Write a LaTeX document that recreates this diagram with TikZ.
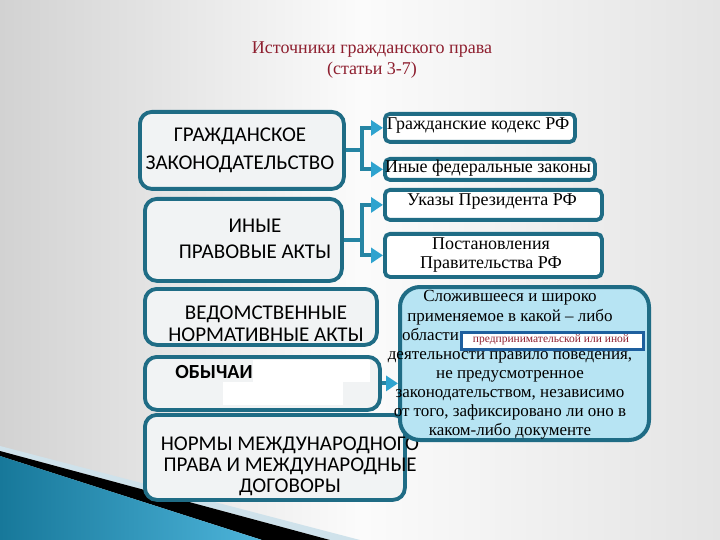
\documentclass[tikz,border=0pt]{standalone}
\usepackage{fontspec}
\setmainfont{Liberation Serif}
\newfontfamily\calfont{Carlito}
\usetikzlibrary{arrows.meta}
\definecolor{teal1}{HTML}{1F6C85}
\definecolor{connc}{HTML}{2584A3}
\definecolor{tipc}{HTML}{2EA3CF}
\definecolor{lfill}{HTML}{F1F3F4}
\definecolor{bigfill}{HTML}{B7E4F3}
\definecolor{innerc}{HTML}{1E5F9E}
\definecolor{titlec}{HTML}{8E1F2F}
\definecolor{bgl}{HTML}{D2D2D2}
\definecolor{bgr}{HTML}{E4E4E4}
\definecolor{blueD}{HTML}{17789A}
\definecolor{blueL}{HTML}{4DB4DA}
\definecolor{lightstrip}{HTML}{CFE2EB}
\tikzset{
  lbox/.style={draw=teal1, line width=3.8pt, rounded corners=12pt, fill=lfill, anchor=north west, inner sep=0pt},
  rbox/.style={draw=teal1, line width=3.8pt, rounded corners=5pt, fill=white, anchor=north west, inner sep=0pt},
  ltext/.style={font=\calfont\fontsize{21}{26}\selectfont, align=center, inner sep=0pt},
  rtext/.style={font=\fontsize{18}{19.5}\selectfont, align=center, inner sep=0pt},
  conn/.style={draw=connc, line width=4pt, -{Triangle[length=12pt,width=15pt,color=tipc]}},
}
\begin{document}
\begin{tikzpicture}[x=1pt,y=-1pt]
\useasboundingbox (0,0) rectangle (720,540);
% background
\shade[left color=bgl, right color=bgr, middle color=white!97!gray] (0,0) rectangle (720,540);
\fill[lightstrip] (0,446) -- (360,540) -- (330,540) -- (0,451) -- cycle;
\fill[black] (0,451) -- (330,540) -- (262,540) -- (0,456) -- cycle;
\shade[left color=blueD, right color=blueL] (0,456) -- (262,540) -- (0,540) -- cycle;

% title
\node[font=\fontsize{18}{21}\selectfont, text=titlec, align=center, inner sep=0pt] (title) at (372,60) {Источники гражданского права\\(статьи 3-7)};

% left boxes
\node[lbox, minimum width=204pt, minimum height=77pt] (g1) at (138,110) {};
\node[lbox, minimum width=197pt, minimum height=82pt] (g2) at (143,197) {};
\node[lbox, minimum width=232pt, minimum height=56pt] (g3) at (143,287) {};
\node[lbox, minimum width=235pt, minimum height=53pt] (g4) at (143,355) {};
\node[lbox, minimum width=260pt, minimum height=85pt] (g5) at (143,413) {};
\fill[white] (253,360) rectangle (370,382);
\fill[white] (223,382) rectangle (343,405);

\node[ltext, font=\calfont\fontsize{21}{28}\selectfont] (t1) at (240,150) {ГРАЖДАНСКОЕ\\ЗАКОНОДАТЕЛЬСТВО};
\node[ltext, font=\calfont\fontsize{21}{26}\selectfont] (t2) at (255,239) {ИНЫЕ\\ПРАВОВЫЕ АКТЫ};
\node[ltext, font=\calfont\fontsize{21}{22}\selectfont] (t3) at (266,324) {ВЕДОМСТВЕННЫЕ\\НОРМАТИВНЫЕ АКТЫ};
\node[ltext, font=\calfont\bfseries\fontsize{20}{22}\selectfont] (t4) at (214,372) {ОБЫЧАИ};
\node[ltext, font=\calfont\fontsize{21}{21}\selectfont] (t5) at (290,466) {НОРМЫ МЕЖДУНАРОДНОГО\\ПРАВА И МЕЖДУНАРОДНЫЕ\\ДОГОВОРЫ};

% right boxes
\node[rbox, minimum width=190pt, minimum height=28pt] (r1) at (383,112) {};
\node[rbox, minimum width=210pt, minimum height=21pt] (r2) at (383,157) {};
\node[rbox, minimum width=217pt, minimum height=30pt] (r3) at (383,188) {};
\node[rbox, minimum width=217pt, minimum height=43pt] (r4) at (383,232) {};
\node[rtext] (s1) at (478,126) {Гражданские кодекс РФ};
\node[rtext] (s2) at (488,168) {Иные федеральные законы};
\node[rtext] (s3) at (492,202) {Указы Президента РФ};
\node[rtext] (s4) at (491,255) {Постановления\\Правительства РФ};

% big box
\node[draw=teal1, line width=4pt, rounded corners=20pt, fill=bigfill, anchor=north west, inner sep=0pt, minimum width=249pt, minimum height=153pt] (big) at (398,285) {};
\node[font=\fontsize{17}{19.1}\selectfont, align=center, inner sep=0pt] (bigtext) at (510,365) {Сложившееся и широко\\применяемое в какой – либо\\\makebox[216pt][l]{области}\\деятельности правило поведения,\\не предусмотренное\\законодательством, независимо\\от того, зафиксировано ли оно в\\каком-либо документе};
\node[draw=innerc, line width=3pt, fill=white, anchor=north west, inner sep=0pt, minimum width=182pt, minimum height=17pt] (inner) at (460,331) {};
\node[font=\fontsize{11.5}{13}\selectfont, text=titlec, inner sep=0pt] (innertext) at (551,340) {предпринимательской или иной};

% connectors
\draw[conn] (g1.east) -- ++(16,0) |- (r1.west);
\draw[conn] (g1.east) -- ++(16,0) |- (r2.west);
\draw[conn] (g2.east) -- ++(18,0) |- (r3.west);
\draw[conn] (g2.east) -- ++(18,0) |- (r4.west);
\draw[conn] (g4.east) -- (g4.east -| big.west);
\end{tikzpicture}
\end{document}
